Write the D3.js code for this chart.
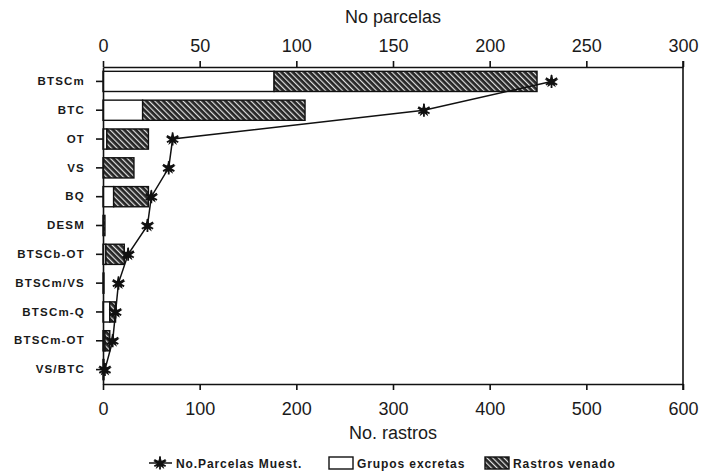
<!DOCTYPE html>
<html>
<head>
<meta charset="utf-8">
<script src="https://cdn.jsdelivr.net/npm/d3@7"></script>
<style>
  body { margin: 0; background: #fff; }
  text { font-family: "Liberation Sans", Arial, Helvetica, sans-serif; fill: #1a1a1a; }
</style>
</head>
<body>
<div id="chart"></div>
<script>
// Vegetation types (rows, top to bottom)
const categories = ["BTSCm", "BTC", "OT", "VS", "BQ", "DESM", "BTSCb-OT", "BTSCm/VS", "BTSCm-Q", "BTSCm-OT", "VS/BTC"];
// No. rastros (bottom axis), stacked
const gruposExcretas = [177, 41, 4, 0, 11, 0, 3, 0, 7, 2, 0];
const rastrosVenado  = [272, 168, 43, 32, 36, 2, 19, 1, 6, 5, 1];
// No. parcelas muestreadas (top axis)
const noParcelas = [232, 166, 36, 34, 25, 23, 13, 8, 6.5, 5, 1];

const rastrosTicks = [0, 100, 200, 300, 400, 500, 600];
const parcelasTicks = [0, 50, 100, 150, 200, 250, 300];

const width = 705, height = 472;
const margin = { left: 103, right: 22, top: 67, bottom: 88 };
const plotW = width - margin.left - margin.right;
const plotH = height - margin.top - margin.bottom;

const svg = d3.select("#chart").append("svg")
  .attr("width", width)
  .attr("height", height);

// hatch pattern for "Rastros venado"
const defs = svg.append("defs");
const pat = defs.append("pattern")
  .attr("id", "hatch")
  .attr("patternUnits", "userSpaceOnUse")
  .attr("width", 4).attr("height", 4)
  .attr("patternTransform", "rotate(-45)");
pat.append("rect").attr("width", 4).attr("height", 4).attr("fill", "#262626");
pat.append("rect").attr("x", 0).attr("width", 1.2).attr("height", 4).attr("fill", "#e0e0e0");

const g = svg.append("g").attr("transform", `translate(${margin.left},${margin.top})`);

const xScale = d3.scaleLinear().domain([0, 600]).range([0, plotW]);
const xTop = d3.scaleLinear().domain([0, 300]).range([0, plotW]);
const yScale = d3.scaleBand().domain(categories).range([0, plotH]).paddingInner(0.3).paddingOuter(0.15);

// bars
const rows = categories.map((c, i) => ({ cat: c, g: gruposExcretas[i], r: rastrosVenado[i], p: noParcelas[i] }));

g.selectAll(".bar-g").data(rows).enter().append("rect")
  .attr("class", "bar-g")
  .attr("x", xScale(0))
  .attr("y", d => yScale(d.cat))
  .attr("width", d => xScale(d.g) - xScale(0))
  .attr("height", yScale.bandwidth())
  .attr("fill", "#fff")
  .attr("stroke", "#111")
  .attr("stroke-width", 1.4);

g.selectAll(".bar-r").data(rows).enter().append("rect")
  .attr("class", "bar-r")
  .attr("x", d => xScale(d.g))
  .attr("y", d => yScale(d.cat))
  .attr("width", d => xScale(d.g + d.r) - xScale(d.g))
  .attr("height", yScale.bandwidth())
  .attr("fill", "url(#hatch)")
  .attr("stroke", "#111")
  .attr("stroke-width", 1.4);

// axes
const axisStyle = sel => {
  sel.select(".domain").attr("stroke", "#111").attr("stroke-width", 1.6);
  sel.selectAll(".tick line").attr("stroke", "#111").attr("stroke-width", 1.6);
};

const bottomAxis = g.append("g")
  .attr("transform", `translate(0,${plotH})`)
  .call(d3.axisBottom(xScale).tickValues(rastrosTicks).tickSizeInner(6).tickSizeOuter(0).tickPadding(12));
bottomAxis.call(axisStyle);
bottomAxis.selectAll("text").style("font-size", "18px");

const topAxis = g.append("g")
  .call(d3.axisTop(xTop).tickValues(parcelasTicks).tickSizeInner(6).tickSizeOuter(0).tickPadding(9));
topAxis.call(axisStyle);
topAxis.selectAll("text").style("font-size", "18px");

const leftAxis = g.append("g")
  .call(d3.axisLeft(yScale).tickSizeInner(7).tickSizeOuter(0).tickPadding(11));
leftAxis.call(axisStyle);
leftAxis.selectAll("text")
  .style("font-size", "11.5px")
  .style("font-weight", "bold")
  .style("letter-spacing", "1.2px");

// right frame
g.append("line")
  .attr("x1", plotW).attr("x2", plotW)
  .attr("y1", -6).attr("y2", plotH + 6)
  .attr("stroke", "#111").attr("stroke-width", 1.6);

// parcelas line
const line = d3.line()
  .x(d => xTop(d.p))
  .y(d => yScale(d.cat) + yScale.bandwidth() / 2);

g.append("path")
  .datum(rows)
  .attr("fill", "none")
  .attr("stroke", "#111")
  .attr("stroke-width", 1.5)
  .attr("d", line);

const drawStar = (sel) => {
  sel.append("path")
    .attr("d", d3.symbol().type(d3.symbolStar).size(60))
    .attr("fill", "#111");
  sel.append("path")
    .attr("d", d3.symbol().type(d3.symbolAsterisk).size(120))
    .attr("fill", "none")
    .attr("stroke", "#111")
    .attr("stroke-width", 1.8);
};

g.selectAll(".star").data(rows).enter().append("g")
  .attr("class", "star")
  .attr("transform", d => `translate(${xTop(d.p)},${yScale(d.cat) + yScale.bandwidth() / 2})`)
  .call(drawStar);

// axis titles
svg.append("text")
  .attr("x", margin.left + plotW / 2)
  .attr("y", 23)
  .attr("text-anchor", "middle")
  .style("font-size", "18px")
  .text("No parcelas");

svg.append("text")
  .attr("x", margin.left + plotW / 2)
  .attr("y", 439)
  .attr("text-anchor", "middle")
  .style("font-size", "18px")
  .text("No. rastros");

// legend
const ly = 463;
const legend = svg.append("g");
legend.append("line")
  .attr("x1", 149).attr("x2", 172).attr("y1", ly).attr("y2", ly)
  .attr("stroke", "#111").attr("stroke-width", 1.5);
legend.append("g").attr("transform", `translate(160,${ly})`).call(drawStar);
legend.append("text")
  .attr("x", 176).attr("y", ly + 4.5)
  .style("font-size", "12px").style("font-weight", "bold").style("letter-spacing", "0.9px")
  .text("No.Parcelas Muest.");

legend.append("rect")
  .attr("x", 329).attr("y", ly - 6).attr("width", 24).attr("height", 12)
  .attr("fill", "#fff").attr("stroke", "#111").attr("stroke-width", 1.4);
legend.append("text")
  .attr("x", 357).attr("y", ly + 4.5)
  .style("font-size", "12px").style("font-weight", "bold").style("letter-spacing", "0.9px")
  .text("Grupos excretas");

legend.append("rect")
  .attr("x", 485).attr("y", ly - 6).attr("width", 24).attr("height", 12)
  .attr("fill", "url(#hatch)").attr("stroke", "#111").attr("stroke-width", 1.4);
legend.append("text")
  .attr("x", 513).attr("y", ly + 4.5)
  .style("font-size", "12px").style("font-weight", "bold").style("letter-spacing", "0.9px")
  .text("Rastros venado");
</script>
</body>
</html>
